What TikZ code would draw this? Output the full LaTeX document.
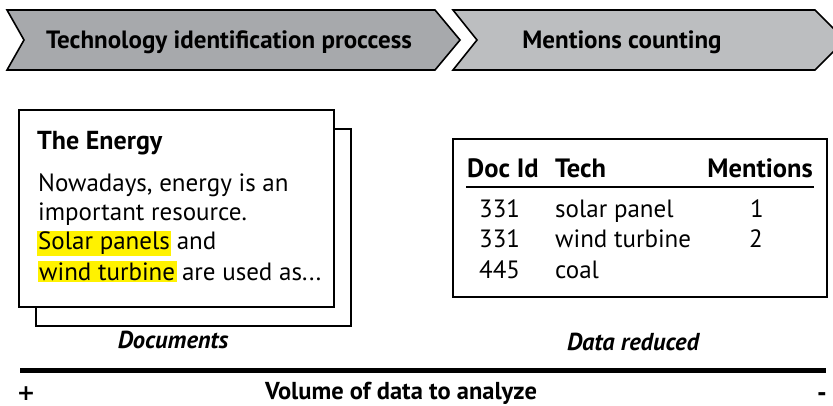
\documentclass[tikz,border=0pt]{standalone}
\usepackage{fontspec}
\setmainfont{PT Sans}
\newfontfamily\signfont{DejaVu Sans}
\definecolor{stepgrayA}{HTML}{A7A9AC}
\definecolor{stepgrayB}{HTML}{BCBEC0}
\definecolor{hlyellow}{RGB}{255,242,0}
\tikzset{
  stepshape/.style={draw=black, line width=1.6pt, line join=miter},
  steptext/.style={font=\fontsize{25}{28}\selectfont\bfseries, anchor=base, inner sep=0pt},
  paper/.style={draw=black, line width=1.6pt, fill=white},
  doctitle/.style={font=\fontsize{26}{30}\selectfont\bfseries, anchor=base west, inner sep=0pt},
  doctext/.style={font=\fontsize{25}{29}\selectfont, anchor=base west, inner sep=0pt},
  hl/.style={doctext, fill=hlyellow, inner xsep=1.5pt, inner ysep=1.5pt},
  thead/.style={font=\fontsize{26.5}{30}\selectfont\bfseries, inner sep=0pt},
  tcell/.style={font=\fontsize{25}{29}\selectfont, inner sep=0pt},
  caption/.style={font=\fontsize{24.5}{28}\selectfont\bfseries\itshape, anchor=base, inner sep=0pt},
  axislabel/.style={font=\fontsize{24.5}{28}\selectfont\bfseries, inner sep=0pt},
  signlabel/.style={font=\signfont\bfseries\fontsize{22}{24}\selectfont, inner sep=0pt, anchor=base},
}
\begin{document}
\begin{tikzpicture}[x=1pt, y=-1pt]
\useasboundingbox (0,0) rectangle (833,406);

% process steps
\begin{scope}
  \clip (0,0) rectangle (833,406);
  \draw[stepshape, fill=stepgrayA] (7,10) -- (435,10) -- (460,40) -- (435,70) -- (7,70) -- (24,40) -- cycle;
  \draw[stepshape, fill=stepgrayB] (453,10) -- (815,10) -- (845,40) -- (815,70) -- (453,70) -- (477,40) -- cycle;
\end{scope}
\node[steptext] (stepA) at (229,49) {Technology identification proccess};
\node[steptext] (stepB) at (622,49) {Mentions counting};

% stack of documents
\draw[paper] (36,129) rectangle (351,326);
\draw[paper] (19,110) rectangle (334,307);
\node[doctitle] (doctitle) at (37,150) {The Energy};
\node[doctext] (line1) at (38,192) {Nowadays, energy is an};
\node[doctext] (line2) at (38,221) {important resource.};
\node[hl, anchor=base west] (hlA) at (36.5,250) {Solar panels};
\node[doctext] (line3) at ([xshift=5pt]hlA.base east) {and};
\node[hl, anchor=base west] (hlB) at (37.5,280) {wind turbine};
\node[doctext] (line4) at ([xshift=5pt]hlB.base east) {are used as...};
\node[caption] (docs) at (173,348) {Documents};

% reduced table
\draw[paper] (453,139) rectangle (827,297);
\node[thead, anchor=base west] (hId) at (467,178) {Doc Id};
\node[thead, anchor=base west] (hTech) at (555,178) {Tech};
\node[thead, anchor=base east] (hMent) at (813,178) {Mentions};
\coordinate (ruleL) at (466,187);
\coordinate (ruleR) at (814,187);
\draw[line width=2pt] (ruleL) -- (ruleR);
\node[tcell, anchor=base west] (id1) at (479,218) {331};
\node[tcell, anchor=base west] (id2) at (479,248) {331};
\node[tcell, anchor=base west] (id3) at (479,279) {445};
\node[tcell, anchor=base west] (t1) at (555,218) {solar panel};
\node[tcell, anchor=base west] (t2) at (555,248) {wind turbine};
\node[tcell, anchor=base west] (t3) at (555,279) {coal};
\node[tcell, anchor=base] (m1) at (757,218) {1};
\node[tcell, anchor=base] (m2) at (756,248) {2};
\node[caption] (reduced) at (633,350) {Data reduced};

% volume axis
\coordinate (axisL) at (20,370);
\coordinate (axisR) at (826,370);
\draw[line width=5pt] (axisL) -- (axisR);
\node[signlabel] (plus) at (26,400) {+};
\node[signlabel] (minus) at (822,400) {-};
\node[axislabel, anchor=base] (volume) at (401,399) {Volume of data to analyze};
\end{tikzpicture}
\end{document}
